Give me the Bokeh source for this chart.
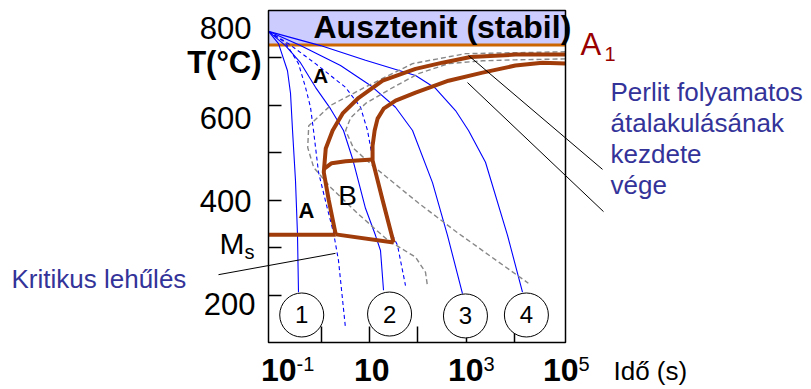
import math
from bokeh.plotting import figure
from bokeh.models import Label, Range1d, FixedTicker, LinearAxis, LogAxis
from bokeh.core.properties import value
from bokeh.embed import file_html
from bokeh.resources import INLINE

# ---------------- data (time in s, temperature in °C) ----------------
A1_T = 727
MS_T = 327
T_MIN, T_MAX = 100, 800
t_min, t_max = 0.08, 1.15e5

# cooling curves (blue solid)
c1_t = [0.08, 0.129, 0.198, 0.229, 0.252, 0.290, 0.319, 0.335]
c1_T = [756, 730, 673, 625, 547, 442, 330, 206]
c2_t = [0.08, 0.180, 0.368, 0.754, 1.54, 2.87, 4.41, 8.20, 13.2, 16.8, 19.4]
c2_T = [756, 726, 690, 638, 593, 547, 488, 383, 326, 294, 210]
c3_t = [0.08, 0.368, 2.49, 10.4, 34.4, 77.5, 201, 411, 841]
c3_T = [756, 726, 684, 642, 596, 547, 437, 326, 203]
c4_t = [0.08, 0.957, 8.20, 89.4, 232, 603, 1122, 2524, 7220, 14750]
c4_T = [756, 726, 695, 663, 636, 589, 547, 480, 326, 206]

# cooling curves (blue dashed)
da_t = [0.08, 0.180, 0.335, 0.468, 0.594, 0.686, 0.871, 1.28, 1.78, 2.26, 3.16]
da_T = [756, 732, 688, 638, 596, 547, 459, 389, 332, 273, 130]
db_t = [0.08, 0.208, 0.754, 3.16, 6.47, 9.04, 11.5, 19.4, 29.8, 37.8, 55.4]
db_T = [756, 730, 688, 638, 596, 547, 488, 400, 326, 305, 220]

# transformation lines (thick brown)
ps_t = [1.15e5, 10540, 1233, 324, 89.6, 18.6, 5.92, 2.76, 1.71, 1.23, 1.12, 1.42, 1.98]
ps_T = [707, 707, 702, 690, 677, 652, 616, 583, 547, 509, 459, 400, 328]
pf_t = [1.15e5, 38200, 10540, 2190, 432, 89.6, 34.5, 19.5, 14.6, 12.7, 11.5, 11.5, 18.6, 31.4]
pf_T = [688, 690, 684, 669, 652, 627, 610, 593, 572, 547, 515, 484, 400, 311]
bt_t = [1.17, 1.63, 3.18, 11.5]
bt_T = [467, 478, 482, 486]
bb_t = [1.98, 31.4]
bb_T = [328, 311]
ms_t = [t_min, 1.98]
ms_T = [MS_T, MS_T]

# grey dashed lines
ga_t = [1.15e5, 10540, 970, 77.6, 8.26, 1.56, 0.546, 0.520, 0.693, 1.56, 5.65, 23.6, 89.6, 144, 159]
ga_T = [713, 711, 709, 688, 639, 600, 557, 511, 469, 427, 372, 316, 280, 248, 217]
gb_t = [1.15e5, 10540, 2188, 432, 103, 27.2, 8.26, 4.04, 3.18, 4.66, 11.5, 103, 695, 19500]
gb_T = [698, 696, 694, 688, 667, 635, 604, 574, 547, 509, 473, 394, 330, 225]

# leader lines (start t, start T, end t, end T)
lead_t0 = [0.00735, 1122, 1069]
lead_T0 = [243, 705, 648]
lead_t1 = [1.96, 673000, 706000]
lead_T1 = [288, 465, 376]

# numbered circles at the ends of the cooling curves
circ_t = [0.391, 25.9, 970, 17780]
circ_T = [158, 160, 156, 158]
circ_lbl = ["1", "2", "3", "4"]

x_ticks = [1, 10, 100, 1000, 10000]
y_ticks = [200, 300, 400, 500, 600, 700]

# ---------------- geometry ----------------
W, H = 811, 389
FX0, FX1, FY0, FY1 = 2, W, 0, H - 2          # frame (canvas px)
BX0, BX1, BY0, BY1 = 268, 565, 10, 342       # diagram box (canvas px)
llo, lhi = math.log10(t_min), math.log10(t_max)
ppd = (BX1 - BX0) / (lhi - llo)
ppT = (BY1 - BY0) / (T_MAX - T_MIN)
x_lo = 10 ** (llo - (BX0 - FX0) / ppd)
x_hi = 10 ** (lhi + (FX1 - BX1) / ppd)
y_lo = T_MIN - (FY1 - BY1) / ppT
y_hi = T_MAX + (BY0 - FY0) / ppT

p = figure(width=W, height=H, x_axis_type="log",
           x_range=Range1d(x_lo, x_hi), y_range=Range1d(y_lo, y_hi),
           x_axis_location=None, y_axis_location=None,
           output_backend="svg", toolbar_location=None,
           min_border_left=FX0, min_border_right=0,
           min_border_top=0, min_border_bottom=H - FY1)
p.grid.visible = False
p.outline_line_color = None
p.background_fill_color = "white"
p.border_fill_color = "white"

xax = LogAxis(fixed_location=T_MIN)
yax = LinearAxis(fixed_location=t_min)
for ax, ticks, tin in ((xax, x_ticks, 16), (yax, y_ticks, 13)):
    ax.ticker = FixedTicker(ticks=ticks, minor_ticks=[])
    ax.major_tick_in = tin
    ax.major_tick_out = 0
    ax.minor_tick_line_color = None
    ax.major_label_text_color = None
    ax.major_label_text_font_size = "1px"
    ax.major_label_standoff = 0
    ax.axis_line_color = None
    ax.major_tick_line_width = 1.5
    ax.major_tick_line_color = "black"
p.add_layout(xax, "below")
p.add_layout(yax, "left")


def X(px):  # picture pixel -> time (text placement only)
    return 10 ** (llo + (px - BX0) / ppd)


def Y(py):  # picture pixel -> temperature (text placement only)
    return T_MAX - (py - BY0) / ppT


# austenite band, A1 line
p.quad(left=[t_min], right=[t_max], bottom=[A1_T], top=[T_MAX],
       fill_color="#ccccff", line_color=None)
p.line([t_min, t_max], [A1_T, A1_T], line_color="#cc6600", line_width=3)

BLUE = "#0000ff"
for tt, TT in ((c1_t, c1_T), (c2_t, c2_T), (c3_t, c3_T), (c4_t, c4_T)):
    p.line(tt, TT, line_color=BLUE, line_width=1.1)
for tt, TT in ((da_t, da_T), (db_t, db_T)):
    p.line(tt, TT, line_color=BLUE, line_width=1.1, line_dash="4 3")
for tt, TT in ((ga_t, ga_T), (gb_t, gb_T)):
    p.line(tt, TT, line_color="#888888", line_width=1.4, line_dash="5 3")

BROWN = "#a03c0a"
for tt, TT in ((ps_t, ps_T), (pf_t, pf_T), (bt_t, bt_T), (bb_t, bb_T), (ms_t, ms_T)):
    p.line(tt, TT, line_color=BROWN, line_width=4, line_join="round")

p.segment(lead_t0, lead_T0, lead_t1, lead_T1, line_color="black", line_width=1)

# diagram box
p.quad(left=[t_min], right=[t_max], bottom=[T_MIN], top=[T_MAX],
       fill_color=None, line_color="black", line_width=1.5)

p.scatter(circ_t, circ_T, marker="circle", size=44, fill_color="white",
          line_color="black", line_width=1, level="overlay")
p.text(circ_t, circ_T, text=circ_lbl, text_align="center", text_baseline="middle",
       text_font=value("Liberation Sans"), text_font_size="24px", level="overlay")

F = "Liberation Sans"


def lab(px, py, txt, size, align="left", bold=False, color="black"):
    # py is the vertical centre of the text
    p.add_layout(Label(x=X(px), y=Y(py), text=txt, text_align=align,
                       text_baseline="middle", text_font=F,
                       text_font_size=f"{size}px",
                       text_font_style="bold" if bold else "normal",
                       text_color=color))


# y labels
lab(251, 27, "800", 31, "right")
lab(261, 62, "T(°C)", 31, "right", bold=True)
lab(251, 117, "600", 31, "right")
lab(251, 200, "400", 31, "right")
lab(244, 243, "M", 30, "right")
lab(244, 251, "s", 20)
lab(255, 303, "200", 31, "right")

# x labels
for px, sup in ((296, "-1"), (389, ""), (483, "3"), (578, "5")):
    lab(px, 369, "10", 32, "right", bold=True)
    if sup:
        lab(px, 363, sup, 20)
lab(613, 370, "Idő (s)", 26)

# annotations
lab(313, 26, "Ausztenit (stabil)", 32, bold=True)
lab(580, 44, "A", 31, color="#990000")
lab(604, 53, "1", 20, color="#990000")
lab(320, 75, "A", 21, "center", bold=True)
lab(306, 210, "A", 22, "center", bold=True)
lab(347, 195, "B", 28, "center")
lab(11, 278, "Kritikus lehűlés", 26, color="#333399")
for i, line in enumerate(["Perlit folyamatos", "átalakulásának", "kezdete", "vége"]):
    lab(610, 91 + 31.3 * i, line, 26, color="#333399")

open("out.html", "w").write(file_html(p, INLINE))
